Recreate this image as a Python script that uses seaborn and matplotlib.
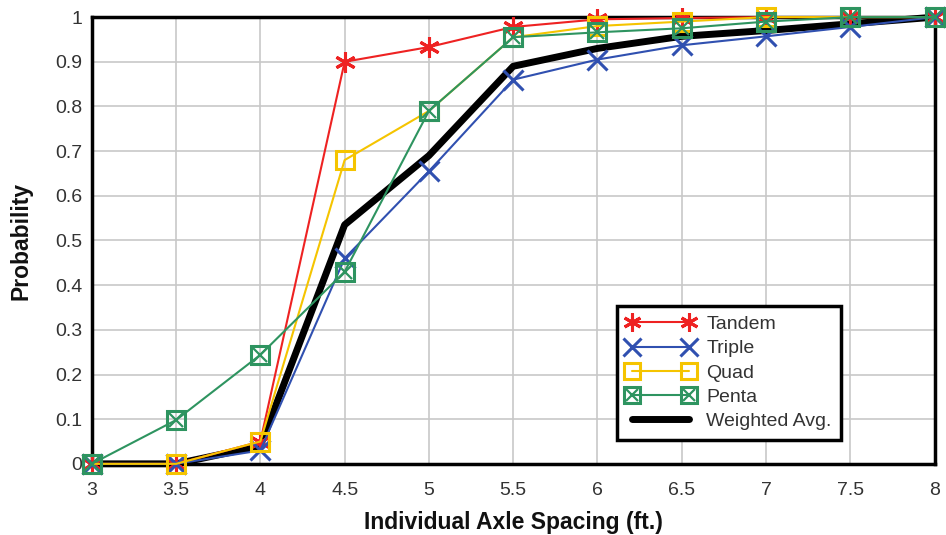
import numpy as np
import pandas as pd
import seaborn as sns
import matplotlib
matplotlib.use("Agg")
import matplotlib.pyplot as plt
from matplotlib.lines import Line2D
from matplotlib.legend_handler import HandlerTuple

spacing = [3, 3.5, 4, 4.5, 5, 5.5, 6, 6.5, 7, 7.5, 8]
tandem = [0, 0, 0.05, 0.90, 0.933, 0.978, 0.995, 0.998, 1.0, 1.0, 1.0]
triple = [0, 0, 0.03, 0.46, 0.655, 0.86, 0.905, 0.937, 0.957, 0.978, 1.0]
quad = [0, 0, 0.05, 0.68, 0.79, 0.955, 0.98, 0.99, 1.0, 1.0, 1.0]
penta = [0, 0.098, 0.244, 0.43, 0.79, 0.955, 0.966, 0.975, 0.99, 1.0, 1.0]
weighted = [0, 0, 0.04, 0.535, 0.69, 0.89, 0.93, 0.957, 0.97, 0.985, 1.0]

y_ticks = [0, 0.1, 0.2, 0.3, 0.4, 0.5, 0.6, 0.7, 0.8, 0.9, 1]
y_labels = ["0", "0.1", "0.2", "0.3", "0.4", "0.5", "0.6", "0.7", "0.8", "0.9", "1"]
x_labels = ["3", "3.5", "4", "4.5", "5", "5.5", "6", "6.5", "7", "7.5", "8"]

sns.set_style("white")
plt.rcParams["font.family"] = ["Liberation Sans", "DejaVu Sans"]

RED = "#ee2222"
BLUE = "#3050b0"
GOLD = "#f5c400"
GREEN = "#2e9460"
TXT = "#333333"

fig = plt.figure(figsize=(9.46, 5.35), dpi=100)
ax = fig.add_axes([0.097, 0.133, 0.891, 0.835])

df = pd.DataFrame({"spacing": spacing, "Tandem": tandem, "Triple": triple,
                   "Quad": quad, "Penta": penta, "Weighted Avg.": weighted})

asterisk = (6, 2, 0)
sns.lineplot(data=df, x="spacing", y="Weighted Avg.", color="black", lw=5,
             ax=ax, zorder=3, clip_on=False)
sns.lineplot(data=df, x="spacing", y="Tandem", color=RED, lw=1.5,
             marker=asterisk, markersize=15, markeredgewidth=2.2,
             markeredgecolor=RED, ax=ax, zorder=4, clip_on=False)
sns.lineplot(data=df, x="spacing", y="Triple", color=BLUE, lw=1.5,
             marker="x", markersize=15, markeredgewidth=2.2,
             markeredgecolor=BLUE, ax=ax, zorder=4, clip_on=False)
sns.lineplot(data=df, x="spacing", y="Quad", color=GOLD, lw=1.5,
             marker="s", markersize=13, markeredgewidth=2.2,
             markerfacecolor="none", markeredgecolor=GOLD, ax=ax, zorder=4,
             clip_on=False)
sns.lineplot(data=df, x="spacing", y="Penta", color=GREEN, lw=1.5,
             marker="s", markersize=13, markeredgewidth=2.2,
             markerfacecolor="none", markeredgecolor=GREEN, ax=ax, zorder=5,
             clip_on=False)
ax.plot(df["spacing"], df["Penta"], ls="none", marker="x", markersize=10,
        markeredgewidth=1.6, color=GREEN, zorder=5, clip_on=False)

ax.set_xlim(3, 8)
ax.set_ylim(0, 1)
ax.set_xticks(spacing)
ax.set_xticklabels(x_labels)
ax.set_yticks(y_ticks)
ax.set_yticklabels(y_labels)
ax.tick_params(labelsize=14, length=0, labelcolor=TXT)
ax.tick_params(axis="x", pad=13)
ax.tick_params(axis="y", pad=7)
ax.grid(True, color="#c8c8c8", lw=1.2)
ax.set_axisbelow(True)
for s in ax.spines.values():
    s.set_color("black")
    s.set_linewidth(2.5)
    s.set_zorder(2.5)
ax.set_xlabel("Individual Axle Spacing (ft.)", fontsize=16.5, fontweight="bold",
              labelpad=9, color="#111111")
ax.set_ylabel("Probability", fontsize=16.5, fontweight="bold", labelpad=16,
              color="#111111")

h_t = Line2D([], [], color=RED, lw=1.5, marker=asterisk, markersize=13,
             markeredgewidth=2.2, markeredgecolor=RED)
h_tr = Line2D([], [], color=BLUE, lw=1.5, marker="x", markersize=13,
              markeredgewidth=2.2)
h_q = Line2D([], [], color=GOLD, lw=1.5, marker="s", markersize=11,
             markeredgewidth=2.2, markerfacecolor="none", markeredgecolor=GOLD)
h_p1 = Line2D([], [], color=GREEN, lw=1.5, marker="s", markersize=11,
              markeredgewidth=2.2, markerfacecolor="none", markeredgecolor=GREEN)
h_p2 = Line2D([], [], color=GREEN, ls="none", marker="x", markersize=8,
              markeredgewidth=1.6)
h_w = Line2D([], [], color="black", lw=5)
leg = ax.legend([h_t, h_tr, h_q, (h_p1, h_p2), h_w],
                ["Tandem", "Triple", "Quad", "Penta", "Weighted Avg."],
                handler_map={tuple: HandlerTuple(ndivide=1, pad=0)},
                loc="lower left", bbox_to_anchor=(0.623, 0.054),
                fontsize=14, numpoints=2, handlelength=3.5, handletextpad=0.6,
                labelspacing=0.34, fancybox=False, framealpha=1,
                borderpad=0.5, borderaxespad=0)
leg.get_frame().set_edgecolor("black")
leg.get_frame().set_linewidth(2.5)
for t in leg.get_texts():
    t.set_color(TXT)

fig.savefig("out.png", dpi=100)
